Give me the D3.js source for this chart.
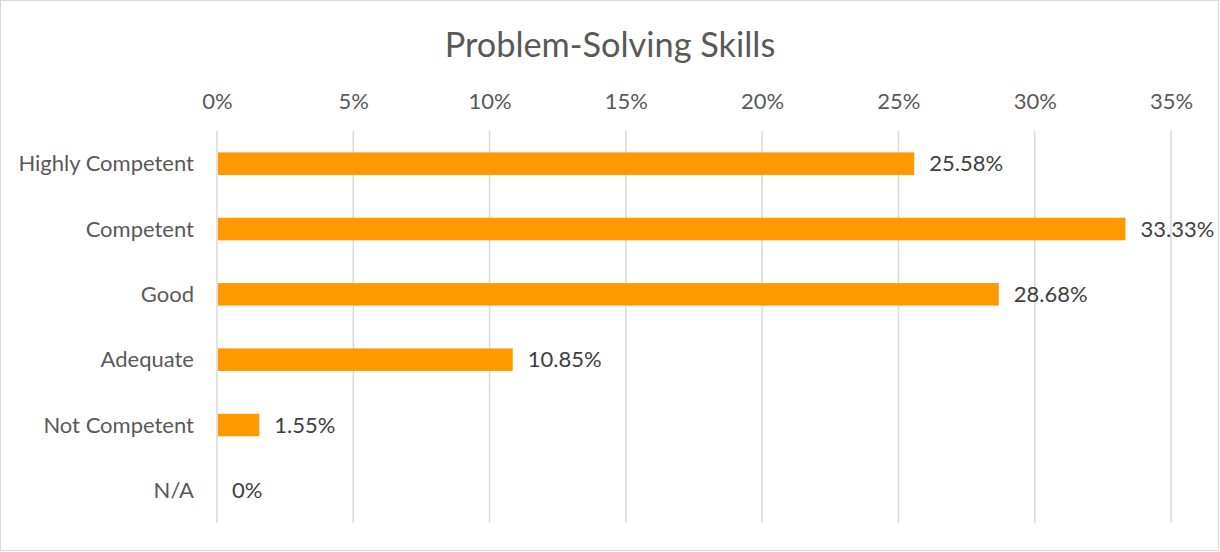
<!DOCTYPE html>
<html>
<head>
<meta charset="utf-8">
<script src="https://cdn.jsdelivr.net/npm/d3@7"></script>
<style>
  html, body { margin: 0; padding: 0; background: #fff; }
  svg { display: block; }
  text { font-family: Lato, "Noto Sans", sans-serif; }
</style>
</head>
<body>
<svg id="chart" width="1220" height="552"></svg>
<script>
// Chart data
const categories = ["Highly Competent", "Competent", "Good", "Adequate", "Not Competent", "N/A"];
const values = [25.58, 33.33, 28.68, 10.85, 1.55, 0];
const valueLabels = ["25.58%", "33.33%", "28.68%", "10.85%", "1.55%", "0%"];
const tickValues = [0, 5, 10, 15, 20, 25, 30, 35];
const chartTitle = "Problem-Solving Skills";

const svg = d3.select("#chart");
const W = 1220, H = 552;
const labelSize = "22px";

// Outer frame
svg.append("rect")
  .attr("x", 0.5).attr("y", 0.5)
  .attr("width", W - 2).attr("height", H - 2)
  .attr("fill", "#fff")
  .attr("stroke", "#d9d9d9")
  .attr("stroke-width", 1);

const x = d3.scaleLinear().domain([0, 35]).range([217, 1171]);
const y = d3.scaleBand()
  .domain(categories)
  .range([131, 523])
  .paddingInner(0.655)
  .paddingOuter(0.3275);

// Vertical gridlines
svg.append("g")
  .selectAll("line")
  .data(tickValues)
  .join("line")
  .attr("x1", d => x(d)).attr("x2", d => x(d))
  .attr("y1", 131).attr("y2", 523)
  .attr("stroke", "#d9d9d9")
  .attr("stroke-width", 1.5);

// Top axis tick labels
const xAxis = d3.axisTop(x)
  .tickValues(tickValues)
  .tickFormat(d => d + "%")
  .tickSize(0)
  .tickPadding(0);
const gx = svg.append("g")
  .attr("transform", "translate(0,109)")
  .call(xAxis);
gx.select(".domain").remove();
gx.selectAll("text")
  .attr("fill", "#595959")
  .style("font-size", labelSize)
  .style("font-family", "Lato, 'Noto Sans', sans-serif");

// Category axis labels
const yAxis = d3.axisLeft(y).tickSize(0).tickPadding(0);
const gy = svg.append("g")
  .attr("transform", "translate(194,0)")
  .call(yAxis);
gy.select(".domain").remove();
gy.selectAll("text")
  .attr("fill", "#595959")
  .attr("dy", "0.35em")
  .style("font-size", labelSize)
  .style("font-family", "Lato, 'Noto Sans', sans-serif");

// Bars
svg.append("g")
  .selectAll("rect")
  .data(categories)
  .join("rect")
  .attr("x", x(0) + 1)
  .attr("y", d => y(d))
  .attr("width", (d, i) => Math.max(0, x(values[i]) - x(0) - 1))
  .attr("height", y.bandwidth())
  .attr("fill", "#ff9900");

// Value labels
svg.append("g")
  .selectAll("text")
  .data(categories)
  .join("text")
  .attr("x", (d, i) => x(values[i]) + 15)
  .attr("y", d => y(d) + y.bandwidth() / 2)
  .attr("dy", "0.35em")
  .attr("fill", "#404040")
  .style("font-size", labelSize)
  .text((d, i) => valueLabels[i]);

// Title
svg.append("text")
  .attr("x", 610)
  .attr("y", 57)
  .attr("text-anchor", "middle")
  .attr("fill", "#595959")
  .style("font-size", "34.3px")
  .text(chartTitle);
</script>
</body>
</html>
